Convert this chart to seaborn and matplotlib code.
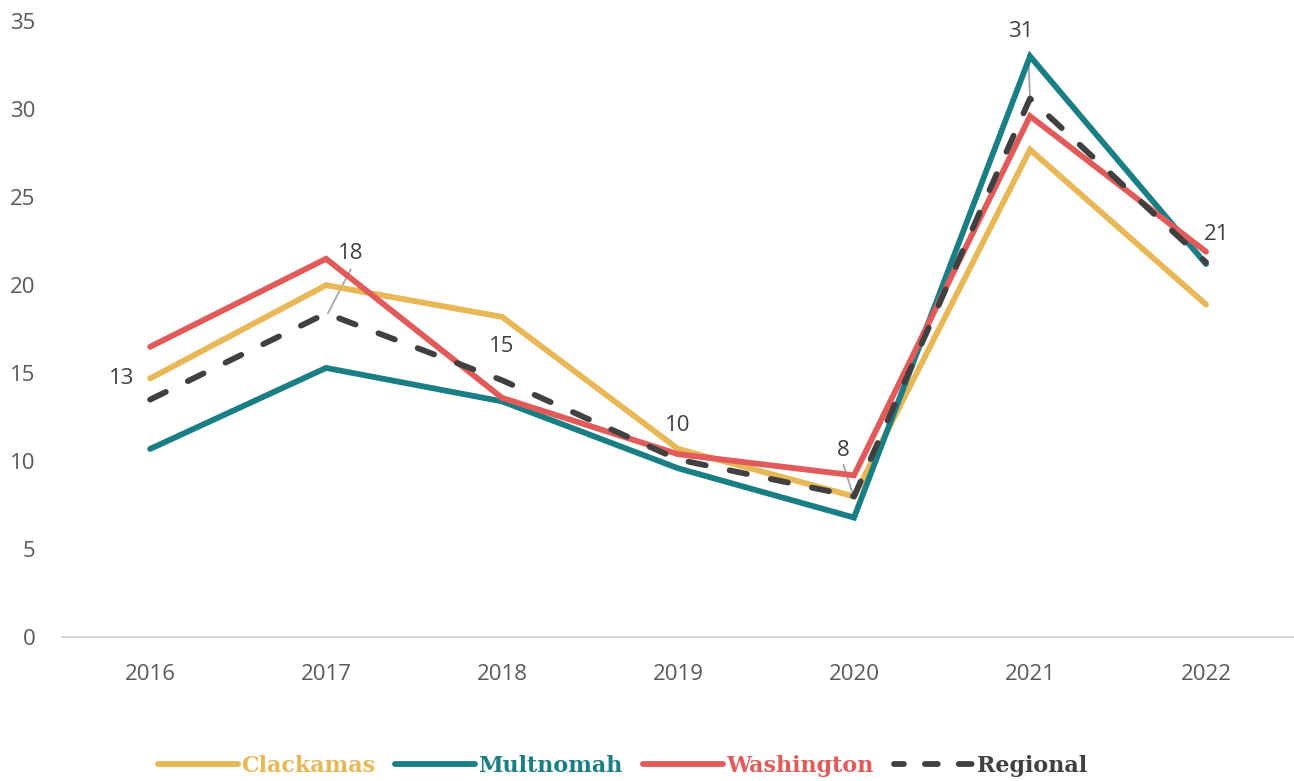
import pandas as pd
import seaborn as sns
import matplotlib.pyplot as plt
import numpy as np
from matplotlib.lines import Line2D

# Datos
years = [2016, 2017, 2018, 2019, 2020, 2021, 2022]
clackamas = [14.7, 20.0, 18.2, 10.7, 8.0, 27.7, 18.9]
multnomah = [10.7, 15.3, 13.4, 9.6, 6.8, 33.0, 21.2]
washington = [16.5, 21.5, 13.6, 10.4, 9.2, 29.6, 21.9]
regional = [13.5, 18.4, 14.6, 10.1, 8.0, 30.6, 21.3]
labels = ["13", "18", "15", "10", "8", "31", "21"]

series = ["Clackamas", "Multnomah", "Washington", "Regional"]
colors = ["#E8B756", "#1A7F84", "#E05B59", "#404040"]

df = pd.DataFrame({"year": years, "Clackamas": clackamas, "Multnomah": multnomah,
                   "Washington": washington, "Regional": regional})
df_long = pd.melt(df, id_vars=["year"], value_vars=series, var_name="area", value_name="value")
df_long["x"] = df_long["year"].map({y: i for i, y in enumerate(years)})

sns.set_style("white")
plt.rcParams["font.family"] = ["Open Sans", "DejaVu Sans"]

fig = plt.figure(figsize=(12.94, 7.81), dpi=100)
ax = fig.add_axes([0.048, 0.184, 0.952, 0.789])

sns.lineplot(data=df_long, x="x", y="value", hue="area", hue_order=series,
             palette=dict(zip(series, colors)), style="area", style_order=series,
             dashes={"Clackamas": "", "Multnomah": "", "Washington": "", "Regional": (3.0, 4.2)},
             linewidth=4.2, ax=ax, legend=False, sort=False)
for ln in ax.get_lines():
    ln.set_solid_capstyle("round")
    ln.set_dash_capstyle("round")
    ln.set_solid_joinstyle("miter")

ax.set_xlim(-0.5, len(years) - 0.5)
ax.set_ylim(0, 35)
ax.set_xticks(range(len(years)))
ax.set_xticklabels([str(y) for y in years])
ax.set_yticks(range(0, 36, 5))
ax.tick_params(axis="both", labelsize=16, colors="#595959", length=0)
ax.tick_params(axis="x", pad=19)
ax.tick_params(axis="y", pad=19)
ax.set_xlabel("")
ax.set_ylabel("")
for s in ["top", "right", "left"]:
    ax.spines[s].set_visible(False)
ax.spines["bottom"].set_color("#D0D0D0")
ax.spines["bottom"].set_linewidth(1.2)

# Etiquetas de datos (Regional): posicion del texto y linea guia
label_pos = [(-0.16, 14.7), (1.14, 21.8), (2.0, 16.5), (3.0, 12.05),
             (3.94, 10.6), (4.95, 34.4), (6.06, 22.9)]
leaders = {1: ((1.14, 20.9), (1.01, 18.4)),
           4: ((3.94, 9.8), (4.0, 7.9)),
           5: ((4.99, 33.1), (5.0, 30.6))}
for i, (lab, (tx, ty)) in enumerate(zip(labels, label_pos)):
    ax.text(tx, ty, lab, ha="center", va="center", fontsize=16, color="#404040")
for i, (p0, p1) in leaders.items():
    ax.plot([p0[0], p1[0]], [p0[1], p1[1]], color="#A6A6A6", lw=1.3, zorder=1)

# Leyenda
handles = [Line2D([0], [0], color=c, lw=4.2, solid_capstyle="round", dash_capstyle="round",
                  linestyle=(0.5, (2.2, 3.6)) if s == "Regional" else "-")
           for s, c in zip(series, colors)]
leg = fig.legend(handles, series, loc="center", bbox_to_anchor=(0.481, 0.019), ncol=4,
                 frameon=False, handlelength=3.6, handletextpad=0.15, columnspacing=0.9,
                 prop={"family": ["DejaVu Serif Condensed", "DejaVu Serif"], "weight": "bold", "size": 16})
for t, c in zip(leg.get_texts(), colors):
    t.set_color(c)

fig.savefig("out.png", dpi=100)
